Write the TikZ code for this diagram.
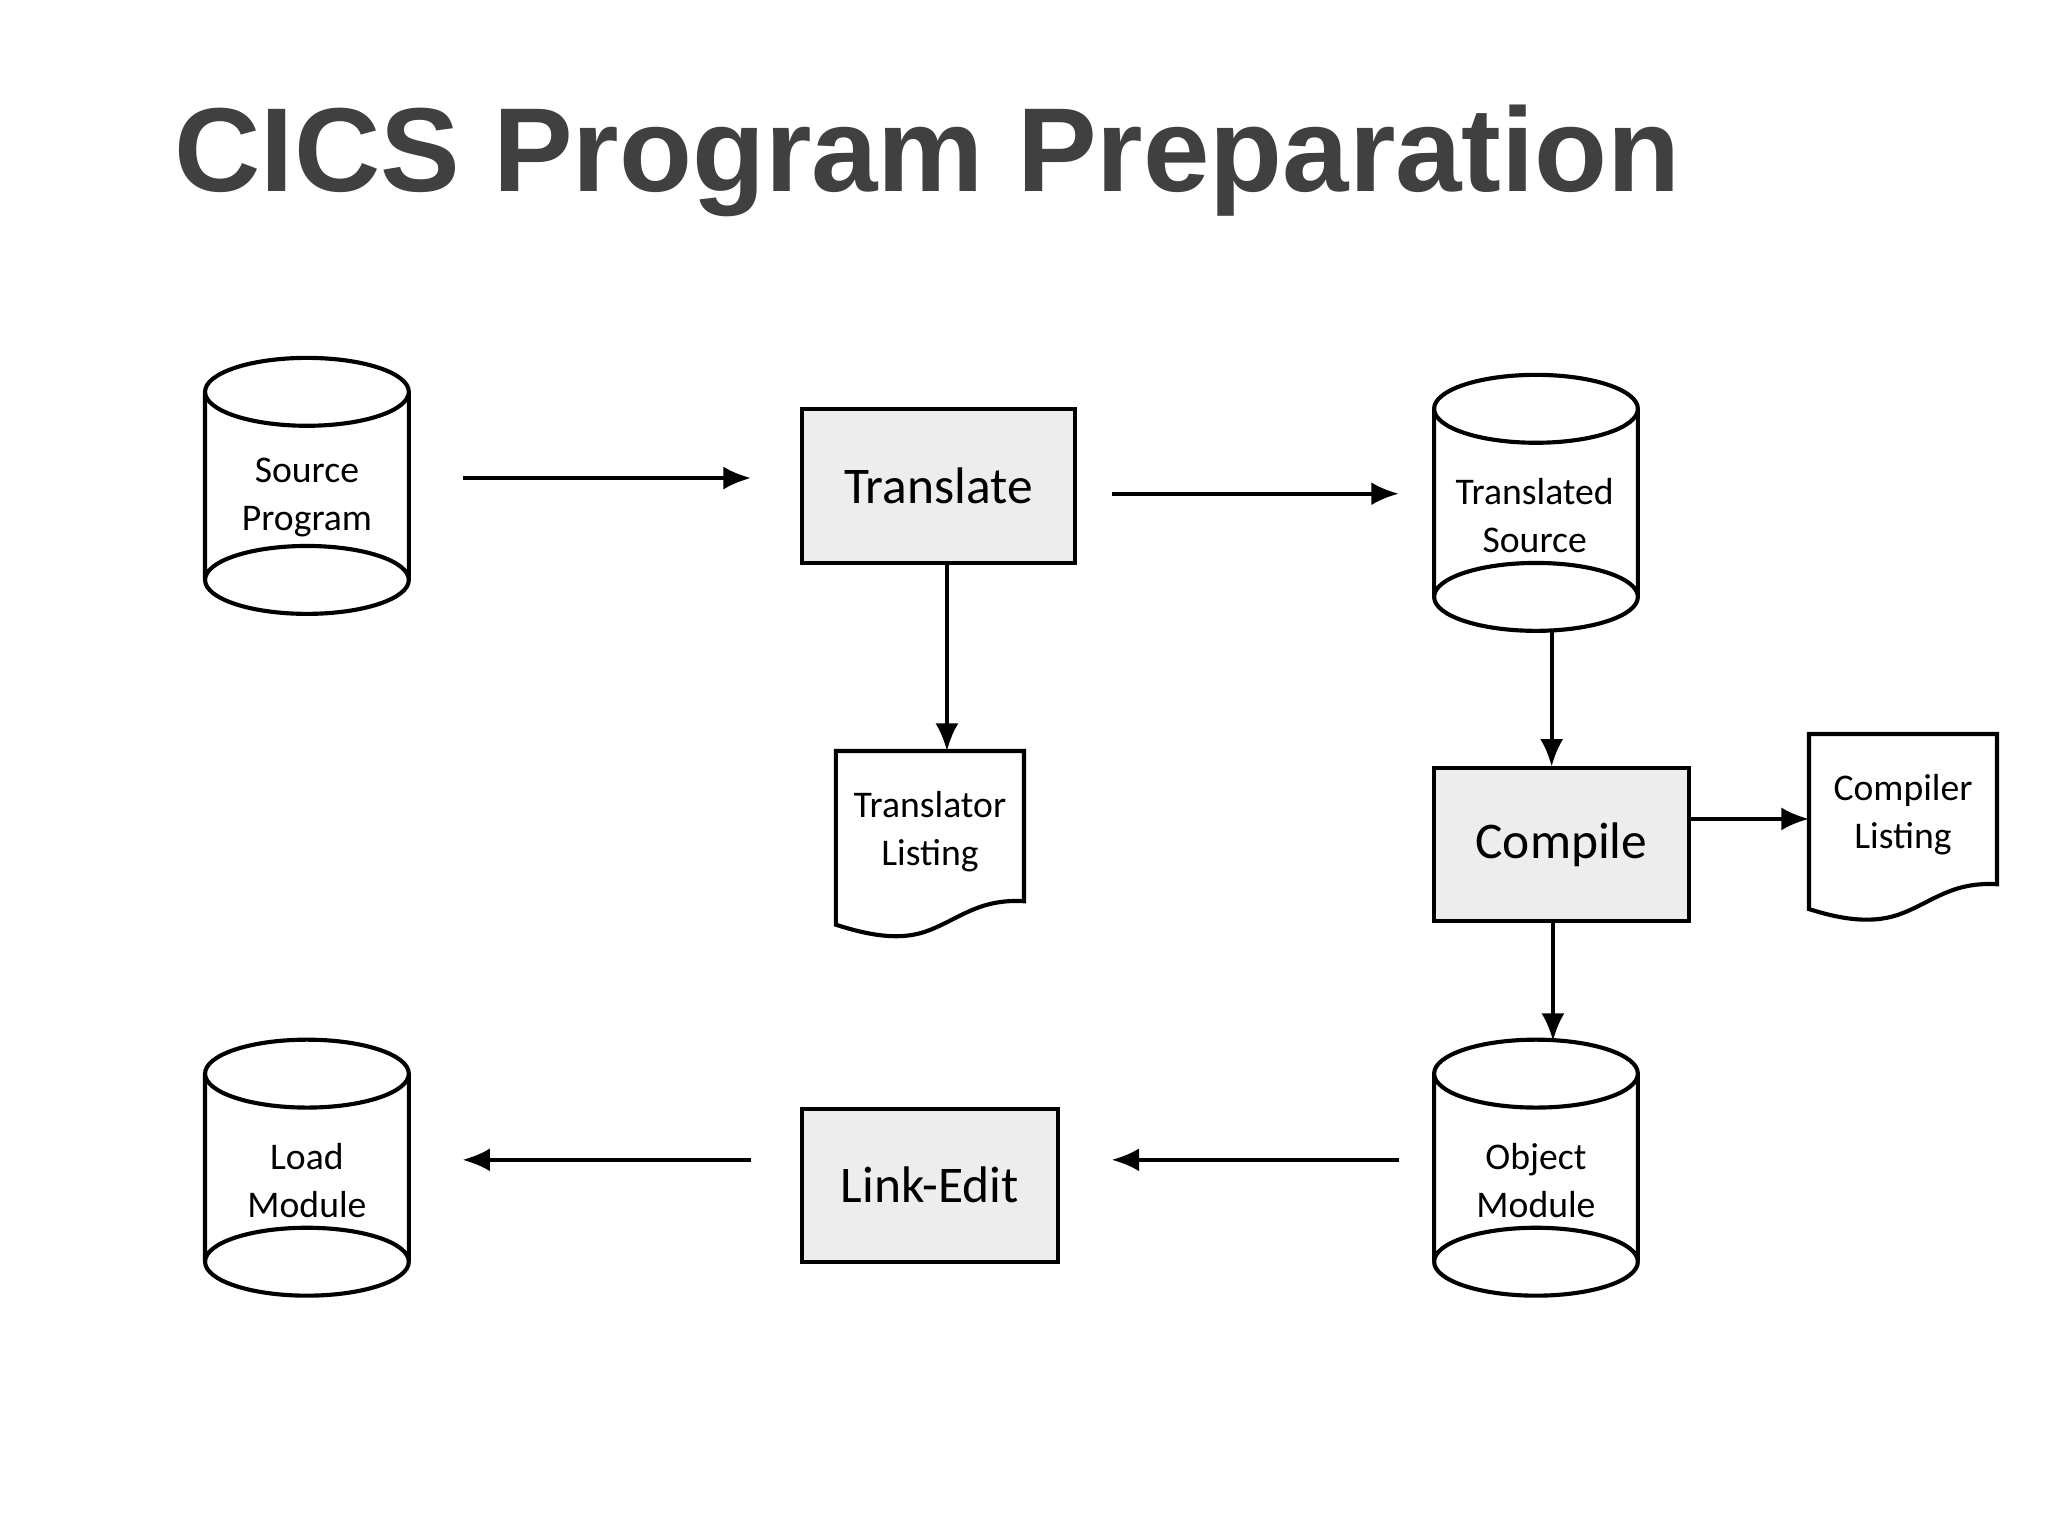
\documentclass[tikz,border=0pt]{standalone}
\usepackage{fontspec}
\setmainfont{Carlito}
\newfontfamily\titlefont{Liberation Sans}
\usetikzlibrary{arrows.meta}
\definecolor{titlegray}{HTML}{404040}
\definecolor{boxgray}{HTML}{EDEDED}
\tikzset{
 x=0.01cm,y=-0.01cm,
 shp/.style={draw=black,line width=0.9pt},
 box/.style={shp,fill=boxgray,inner sep=0pt,font=\fontsize{11.2}{13}\selectfont},
 lbl/.style={align=center,font=\fontsize{8.2}{10.5}\selectfont,inner sep=0pt},
 arr/.style={line width=0.8pt,-{Latex[length=6pt,width=5pt]}}
}
\newcommand{\mycyl}[5]{% name, cx, topcy, botcy, text
 \draw[shp,fill=white] (#2-78,#3) -- (#2-78,#4) arc[start angle=180,end angle=360,x radius=78,y radius=26] -- (#2+78,#3);
 \draw[shp] (#2-78,#4) arc[start angle=180,end angle=0,x radius=78,y radius=26];
 \draw[shp,fill=white] (#2,#3) ellipse[x radius=78,y radius=26];
 \node[minimum width=1.56cm,minimum height={(#4-#3+52)*0.01cm},inner sep=0pt] (#1) at (#2,{(#3+#4)/2}) {};
}
\begin{document}
\begin{tikzpicture}
\useasboundingbox (0,0) rectangle (1568,1176);
\node[anchor=base west,inner sep=0pt,text=titlegray,font=\titlefont\bfseries\fontsize{26}{30}\selectfont] (title) at (133,147) {CICS Program Preparation};

\mycyl{sp}{235}{300}{444}{}
\node[lbl] (spt) at (235,381) {Source\\ Program};
\mycyl{ts}{1176}{313}{457}{}
\node[lbl] (tst) at (1175,395) {Translated\\ Source};
\mycyl{om}{1176}{822}{966}{}
\node[lbl] (omt) at (1176,904) {Object\\ Module};
\mycyl{lm}{235}{822}{966}{}
\node[lbl] (lmt) at (235,904) {Load\\ Module};

\node[box,minimum width=2.09cm,minimum height=1.18cm] (tr) at (718.5,372) {Translate};
\node[box,minimum width=1.95cm,minimum height=1.17cm] (co) at (1195.5,646.5) {Compile};
\node[box,minimum width=1.96cm,minimum height=1.17cm] (le) at (712,907.5) {Link-Edit};

\draw[shp,fill=white] (640,575) -- (784,575) -- (784,690) .. controls (750,688) and (735,703) .. (712,712) .. controls (690,721) and (665,716) .. (640,708) -- cycle;
\node[minimum width=1.44cm,minimum height=1.35cm,inner sep=0pt] (tl) at (712,642) {};
\node[lbl] (tlt) at (712,637) {Translator\\ Listing};
\draw[shp,fill=white] (1385,562) -- (1529,562) -- (1529,677) .. controls (1495,675) and (1480,690) .. (1457,699) .. controls (1435,708) and (1410,704) .. (1385,696) -- cycle;
\node[minimum width=1.44cm,minimum height=1.35cm,inner sep=0pt] (cl) at (1457,629) {};
\node[lbl] (clt) at (1457,624) {Compiler\\ Listing};

\draw[arr] (sp.east) ++(41,-6) coordinate (a1) -- (575,366) coordinate (a2);
\draw[arr] (tr.east) ++(27,6) -- (1071,378);
\draw[arr] (725,431) -- (725,575);
\draw[arr] (1188,483) -- (1188,587);
\draw[arr] (co.east) ++(0,-19.5) -- (1385,627);
\draw[arr] (1189,705) -- (1189,797);
\draw[arr] (1071,888) -- (851,888);
\draw[arr] (575,888) -- (354,888);
\end{tikzpicture}
\end{document}
